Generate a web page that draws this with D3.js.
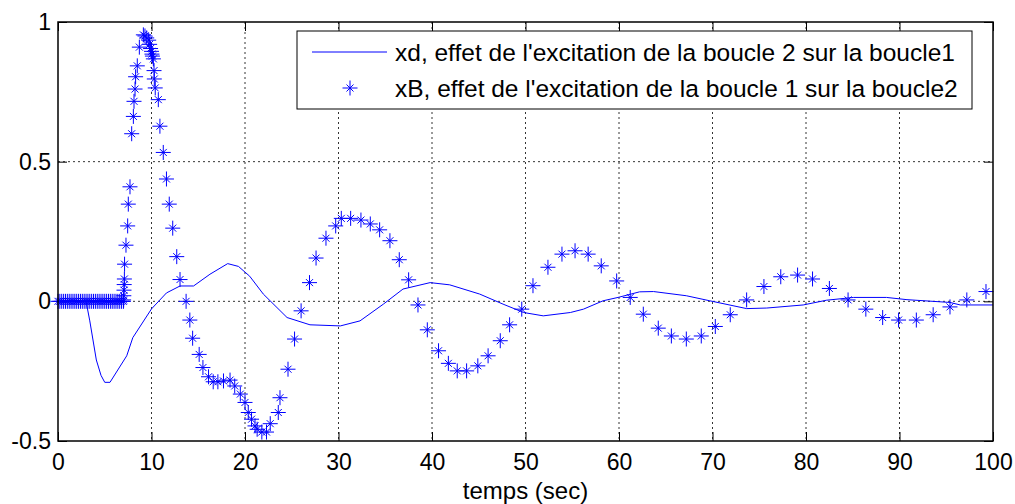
<!DOCTYPE html>
<html lang="fr">
<head>
<meta charset="utf-8">
<style type="text/css">
    body { margin: 0; background: #fff; }
    svg { display: block; font-family: "Liberation Sans", Arial, sans-serif; }
    .grid line { stroke: #000; stroke-width: 0.8; stroke-dasharray: 2,3; }
    .tick text { font-size: 23px; fill: #000; }
</style>
</head>
<body>
<svg width="1015" height="504"></svg>
<script src="https://cdn.jsdelivr.net/npm/d3@7"></script>
<script type="text/javascript">

    // xd : effet de l'excitation de la boucle 2 sur la boucle1 (trait continu)
    var xdTime = [0, 1, 2, 3.0, 3.4, 4.1, 4.6, 5.0, 5.56, 7.35, 8.0, 10.0, 11.6, 13.05, 14.5, 16.25, 18.15, 19.3,
        20.5, 21.96, 24.5, 26.95, 30.2, 32.3, 34.8, 36.9, 39.8, 41.9, 45.1, 47.6, 49.8, 51.9, 54.8, 56.2,
        58.3, 59.9, 62.2, 63.7, 67.2, 69.7, 73.65, 75.8, 79.7, 82.2, 85.1, 88.6, 90.8, 95.4, 96.5, 100];
    var xdValue = [0, 0, 0, 0, -0.07, -0.21, -0.265, -0.29, -0.29, -0.195, -0.13, -0.027, 0.03, 0.055, 0.055, 0.097, 0.135, 0.125,
        0.09, 0.026, -0.058, -0.084, -0.088, -0.07, -0.01, 0.044, 0.067, 0.059, 0.026, -0.01, -0.04, -0.052, -0.04, -0.028,
        0.002, 0.014, 0.034, 0.035, 0.02, 0.002, -0.026, -0.024, -0.013, 0.004, 0.014, 0.014, 0.006, -0.004, -0.013, -0.013];

    // xB : effet de l'excitation de la boucle 1 sur la boucle2 (etoiles)
    var xbTime = [0, 0.2, 0.4, 0.6, 0.8, 1.0, 1.2, 1.4, 1.6, 1.8, 2.0, 2.2, 2.4, 2.6, 2.8, 3.0, 3.2, 3.4, 3.6, 3.8,
        4.0, 4.2, 4.4, 4.6, 4.8, 5.0, 5.2, 5.4, 5.6, 5.8, 6.0, 6.2, 6.4, 6.6, 6.8, 7.0,
        7.02, 7.04, 7.06, 7.08, 7.1, 7.12, 7.27, 7.45, 7.52, 7.7, 7.88, 8.06, 8.13, 8.24, 8.3, 8.48, 8.7,
        9.13, 9.3, 9.49, 9.7, 9.8, 9.9, 10.0, 10.05, 10.1, 10.2, 10.27, 10.3, 10.4, 10.73, 10.9, 11.26, 11.6,
        11.9, 12.27, 12.7, 13.05, 13.7, 14.1, 14.4, 15.1, 15.5, 16.1, 16.6, 17.1, 17.7, 18.4, 18.9, 19.5,
        20.0, 20.35, 20.7, 21.07, 21.3, 21.8, 22.3, 22.7, 23.56, 23.74, 24.6, 25.3, 26.0, 26.9, 27.6, 28.66,
        29.7, 30.3, 31.3, 32.4, 33.4, 34.4, 35.5, 36.5, 37.5, 38.5, 39.5, 40.7, 41.75, 42.7, 43.7, 44.9,
        46.0, 47.3, 48.3, 49.6, 50.8, 52.4, 53.9, 55.3, 56.7, 58.1, 59.75, 61.2, 62.6, 64.2, 65.6, 67.2,
        68.8, 70.3, 71.9, 73.65, 75.5, 77.3, 79.1, 80.7, 82.5, 84.5, 86.4, 88.2, 89.9, 91.8, 93.6, 95.4,
        97.2, 99.25];
    var xbValue = [0, 0, 0, 0, 0, 0, 0, 0, 0, 0, 0, 0, 0, 0, 0, 0, 0, 0, 0, 0,
        0, 0, 0, 0, 0, 0, 0, 0, 0, 0, 0, 0, 0, 0, 0, 0,
        0.005, 0.02, 0.04, 0.06, 0.08, 0.133, 0.201, 0.27, 0.348, 0.41, 0.60, 0.662, 0.716, 0.76, 0.804, 0.843, 0.91,
        0.954, 0.95, 0.943, 0.935, 0.92, 0.905, 0.895, 0.885, 0.878, 0.868, 0.826, 0.796, 0.764, 0.722, 0.627, 0.533, 0.438,
        0.348, 0.262, 0.16, 0.078, 0.0, -0.067, -0.132, -0.19, -0.237, -0.27, -0.288, -0.288, -0.285, -0.282, -0.303, -0.332,
        -0.362, -0.398, -0.422, -0.446, -0.458, -0.468, -0.468, -0.438, -0.398, -0.345, -0.243, -0.135, -0.034, 0.067, 0.155, 0.226,
        0.27, 0.297, 0.297, 0.291, 0.277, 0.256, 0.217, 0.149, 0.077, -0.013, -0.102, -0.177, -0.222, -0.249, -0.249, -0.231,
        -0.195, -0.141, -0.084, -0.028, 0.056, 0.122, 0.169, 0.181, 0.169, 0.127, 0.073, 0.014, -0.046, -0.096, -0.124, -0.135,
        -0.124, -0.09, -0.048, 0.005, 0.053, 0.088, 0.094, 0.08, 0.046, 0.005, -0.028, -0.058, -0.067, -0.067, -0.048, -0.02,
        0.005, 0.035];

    var xTicks = [0, 10, 20, 30, 40, 50, 60, 70, 80, 90, 100];
    var yTicks = [-0.5, 0, 0.5, 1];
    var yTickLabels = ["-0.5", "0", "0.5", "1"];
    var legendLabels = ["xd, effet de l'excitation de la boucle 2 sur la boucle1",
        "xB, effet de l'excitation de la boucle 1 sur la boucle2"];

    var svg = d3.select("svg");
    var pLeft = 58, pRight = 993, pTop = 22, pBottom = 441;
    var blue = "#0000ff";

    var x = d3.scaleLinear().domain([0, 100]).range([pLeft, pRight]);
    var y = d3.scaleLinear().domain([-0.5, 1]).range([pBottom, pTop]);

    // grille pointillee
    var grid = svg.append("g").attr("class", "grid");
    grid.selectAll(".gx")
        .data(xTicks.slice(1, -1))
        .enter().append("line")
        .attr("x1", function (d) {return x(d);})
        .attr("x2", function (d) {return x(d);})
        .attr("y1", pTop).attr("y2", pBottom);
    grid.selectAll(".gy")
        .data(yTicks.slice(1, -1))
        .enter().append("line")
        .attr("y1", function (d) {return y(d);})
        .attr("y2", function (d) {return y(d);})
        .attr("x1", pLeft).attr("x2", pRight);

    // axes avec graduations vers l'interieur
    svg.append("g")
        .attr("transform", "translate(0," + pBottom + ")")
        .call(d3.axisBottom(x).tickValues(xTicks).tickSizeInner(-9).tickSizeOuter(0).tickPadding(13)
            .tickFormat(d3.format("d")));
    svg.append("g")
        .attr("transform", "translate(0," + pTop + ")")
        .call(d3.axisTop(x).tickValues(xTicks).tickSizeInner(-9).tickSizeOuter(0).tickFormat(""));
    svg.append("g")
        .attr("transform", "translate(" + pLeft + ",0)")
        .call(d3.axisLeft(y).tickValues(yTicks).tickSizeInner(-9).tickSizeOuter(0).tickPadding(7)
            .tickFormat(function (d, i) {return yTickLabels[i];}));
    svg.append("g")
        .attr("transform", "translate(" + pRight + ",0)")
        .call(d3.axisRight(y).tickValues(yTicks).tickSizeInner(-9).tickSizeOuter(0).tickFormat(""));
    svg.selectAll(".domain").remove();
    svg.selectAll(".tick line").attr("stroke", "#000").attr("stroke-width", 1);
    svg.selectAll(".tick text").attr("font-family", null).attr("font-size", null);

    // courbe xd
    var line = d3.line()
        .x(function (d, i) {return x(xdTime[i]);})
        .y(function (d) {return y(d);});
    svg.append("path")
        .datum(xdValue)
        .attr("d", line)
        .attr("fill", "none")
        .attr("stroke", blue)
        .attr("stroke-width", 1);

    // etoiles xB
    var star = "M-7.5,0H7.5M0,-7.5V7.5M-3.5,-3.5L3.5,3.5M-3.5,3.5L3.5,-3.5";
    svg.append("g").selectAll("path")
        .data(xbValue)
        .enter().append("path")
        .attr("transform", function (d, i) {return "translate(" + x(xbTime[i]) + "," + y(d) + ")";})
        .attr("d", star)
        .attr("fill", "none")
        .attr("stroke", blue)
        .attr("stroke-width", 1);

    // cadre
    svg.append("rect")
        .attr("x", pLeft).attr("y", pTop)
        .attr("width", pRight - pLeft).attr("height", pBottom - pTop)
        .attr("fill", "none")
        .attr("stroke", "#000")
        .attr("stroke-width", 1.5);

    // titre axe x
    svg.append("text")
        .attr("x", (pLeft + pRight) / 2)
        .attr("y", 499)
        .attr("text-anchor", "middle")
        .attr("font-size", 24)
        .text("temps (sec)");

    // legende
    var legend = svg.append("g");
    legend.append("rect")
        .attr("x", 297).attr("y", 31)
        .attr("width", 675).attr("height", 78)
        .attr("fill", "#fff")
        .attr("stroke", "#000")
        .attr("stroke-width", 1);
    legend.append("line")
        .attr("x1", 312).attr("x2", 387)
        .attr("y1", 52).attr("y2", 52)
        .attr("stroke", blue).attr("stroke-width", 1);
    legend.append("path")
        .attr("transform", "translate(350,88)")
        .attr("d", star)
        .attr("fill", "none")
        .attr("stroke", blue).attr("stroke-width", 1);
    legend.selectAll(".lt")
        .data(legendLabels)
        .enter().append("text")
        .attr("x", 395)
        .attr("y", function (d, i) {return 52 + i * 36 + 8.5;})
        .attr("font-size", 24.5)
        .text(function (d) {return d;});

</script>
</body>
</html>
